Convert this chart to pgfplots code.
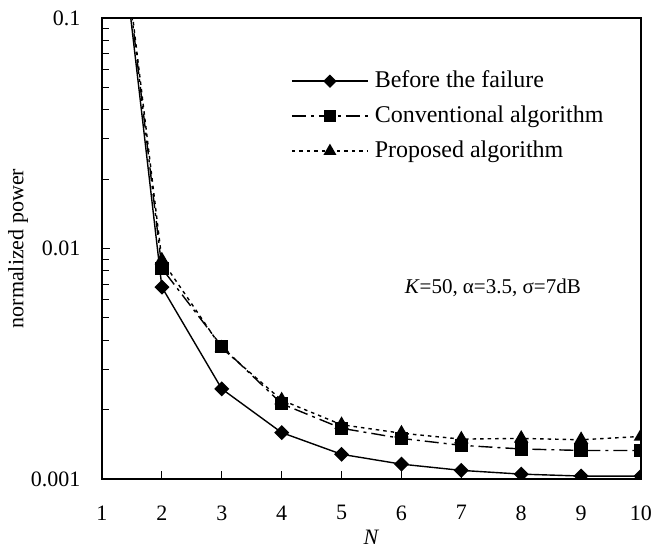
\documentclass[border=0pt]{standalone}
\usepackage{fontspec}
\setmainfont{Liberation Serif}
\usepackage{pgfplots}
\pgfplotsset{compat=1.18}
\begin{document}
\fontsize{22}{26}\selectfont
\begin{tikzpicture}
\useasboundingbox (-102pt,-70pt) rectangle (565pt,479pt);
\begin{axis}[
  at={(0pt,0pt)}, anchor=south west,
  scale only axis, width=539pt, height=461pt,
  ymode=log, xmin=1, xmax=10, ymin=0.001, ymax=0.1,
  xtick={1,2,3,4,5,6,7,8,9,10}, xticklabels={1,2,3,4,5,6,7,8,9,10},
  ytick={0.001,0.01,0.1}, yticklabels={0.001,0.01,0.1},
  tick align=inside, xtick pos=lower, ytick pos=left,
  major tick length=8pt, minor tick length=7pt,
  axis line style={line width=1.4pt},
  every tick/.style={line width=0.8pt, black},
  xticklabel style={yshift=-19pt},
  yticklabel style={xshift=-14pt},
  xlabel={\textit{N}}, ylabel={normalized power},
  every axis x label/.style={at={(axis description cs:0.5,0)}, yshift=-58pt, anchor=center},
  every axis y label/.style={at={(axis description cs:0,0.5)}, xshift=-84pt, rotate=90, anchor=center},
  clip marker paths=true,
  legend style={at={(axis description cs:0.345,0.894)}, anchor=north west, draw=none, fill=none,
    font=\fontsize{24}{28}\selectfont, row sep=11pt, cells={anchor=west},
    /tikz/every odd column/.append style={column sep=4pt}},
  legend image code/.code={\draw[mark repeat=2,mark phase=2,#1,line width=1.6pt,every mark/.append style={scale=0.85}] plot coordinates {(0pt,0pt) (38pt,0pt) (76pt,0pt)};},
]
\addplot[black, line width=1.4pt, mark=square*, mark size=4.6pt, mark options={solid, rotate=45}]
  coordinates {(1,1.2)(2,0.0068)(3,0.00246)(4,0.00159)(5,0.00128)(6,0.00116)(7,0.00109)(8,0.00105)(9,0.00103)(10,0.00103)};
\addlegendentry{Before the failure}
\addplot[black, line width=1.4pt, dash pattern=on 14pt off 5pt on 3pt off 5pt, mark=square*, mark size=6pt, mark options={solid}]
  coordinates {(1,1.25)(2,0.0082)(3,0.00376)(4,0.00212)(5,0.00166)(6,0.0015)(7,0.0014)(8,0.00135)(9,0.00133)(10,0.00133)};
\addlegendentry{Conventional algorithm}
\addplot[black, line width=1.4pt, dash pattern=on 3.5pt off 4pt, mark=triangle*, mark size=7pt, mark options={solid}]
  coordinates {(1,1.3)(2,0.0089)(3,0.0037)(4,0.0022)(5,0.00172)(6,0.00158)(7,0.00149)(8,0.0015)(9,0.00148)(10,0.00153)};
\addlegendentry{Proposed algorithm}
\node[font=\fontsize{21}{25}\selectfont] at (rel axis cs:0.725,0.415) {\textit{K}=50, α=3.5, σ=7dB};
\end{axis}
\end{tikzpicture}
\end{document}
